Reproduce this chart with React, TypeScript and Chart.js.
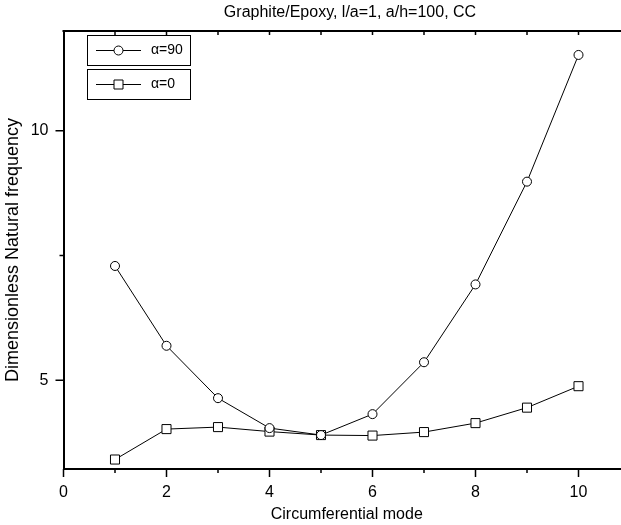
import { useEffect, useRef } from 'react';
import { Chart, registerables } from 'chart.js';

Chart.register(...registerables);

const modes = [1, 2, 3, 4, 5, 6, 7, 8, 9, 10];
const alpha90 = [7.29, 5.69, 4.64, 4.04, 3.9, 4.32, 5.36, 6.92, 8.98, 11.52];
const alpha0 = [3.41, 4.02, 4.06, 3.97, 3.9, 3.89, 3.96, 4.14, 4.45, 4.88];
const xTickLabels = [0, 2, 4, 6, 8, 10];
const xMinorTicks = [1, 3, 5, 7, 9];
const yTickLabels = [5, 10];
const yMinorTicks = [7.5];
const seriesLabels = ['α=90', 'α=0'];
const titleText = 'Graphite/Epoxy, l/a=1, a/h=100, CC';
const xTitle = 'Circumferential mode';
const yTitle = 'Dimensionless Natural frequency';

const FONT = '"Liberation Sans", Arial, sans-serif';

const decor = {
  id: 'decor',
  afterDraw(chart: any) {
    const { ctx, chartArea } = chart;
    const xs = chart.scales.x;
    const ys = chart.scales.y;
    ctx.save();
    // title
    ctx.fillStyle = '#000';
    ctx.font = `16px ${FONT}`;
    ctx.textAlign = 'center';
    ctx.textBaseline = 'middle';
    ctx.fillText(titleText, 350, 13);

    ctx.strokeStyle = '#000';
    // top border
    ctx.lineWidth = 2;
    ctx.beginPath();
    ctx.moveTo(chartArea.left - 1, chartArea.top);
    ctx.lineTo(chartArea.right, chartArea.top);
    ctx.stroke();

    ctx.lineWidth = 1.5;
    ctx.beginPath();
    xTickLabels.forEach((v) => {
      const px = xs.getPixelForValue(v);
      ctx.moveTo(px, chartArea.bottom);
      ctx.lineTo(px, chartArea.bottom + 8);
    });
    xMinorTicks.forEach((v) => {
      const px = xs.getPixelForValue(v);
      ctx.moveTo(px, chartArea.bottom);
      ctx.lineTo(px, chartArea.bottom + 4);
    });
    [...xTickLabels, ...xMinorTicks].forEach((v) => {
      if (v === 0) return;
      const px = xs.getPixelForValue(v);
      ctx.moveTo(px, chartArea.top);
      ctx.lineTo(px, chartArea.top + 4);
    });
    yTickLabels.forEach((v) => {
      const py = ys.getPixelForValue(v);
      ctx.moveTo(chartArea.left, py);
      ctx.lineTo(chartArea.left - 8, py);
    });
    yMinorTicks.forEach((v) => {
      const py = ys.getPixelForValue(v);
      ctx.moveTo(chartArea.left, py);
      ctx.lineTo(chartArea.left - 4, py);
    });
    ctx.stroke();

    // legend
    ctx.font = `14px ${FONT}`;
    ctx.textAlign = 'left';
    ctx.textBaseline = 'middle';
    chart.data.datasets.forEach((ds: any, i: number) => {
      const top = 35.5 + i * 34;
      ctx.lineWidth = 1;
      ctx.strokeStyle = '#000';
      ctx.strokeRect(87.5, top, 103, 30);
      const cy = top + 15;
      ctx.beginPath();
      ctx.moveTo(96, cy);
      ctx.lineTo(141, cy);
      ctx.stroke();
      ctx.fillStyle = '#fff';
      ctx.beginPath();
      if (ds.pointStyle === 'circle') {
        ctx.arc(118.5, cy, 4.5, 0, Math.PI * 2);
      } else {
        ctx.rect(114, cy - 4.5, 9, 9);
      }
      ctx.fill();
      ctx.stroke();
      ctx.fillStyle = '#000';
      ctx.fillText(ds.label, 151, cy);
    });
    ctx.restore();
  },
};

export default function App() {
  const ref = useRef<HTMLCanvasElement>(null);
  useEffect(() => {
    if (!ref.current) return;
    Chart.defaults.color = '#000';
    const tickFont = { family: FONT, size: 16 };
    const yTitleFont = { family: FONT, size: 18 };
    const chart = new Chart(ref.current, {
      type: 'line',
      data: {
        datasets: [
          {
            label: seriesLabels[0],
            data: modes.map((m, i) => ({ x: m, y: alpha90[i] })),
            borderColor: '#000',
            borderWidth: 1,
            pointStyle: 'circle',
            pointRadius: 4.5,
            pointBackgroundColor: '#fff',
            pointBorderColor: '#000',
            pointBorderWidth: 1,
            fill: false,
            tension: 0,
          },
          {
            label: seriesLabels[1],
            data: modes.map((m, i) => ({ x: m, y: alpha0[i] })),
            borderColor: '#000',
            borderWidth: 1,
            pointStyle: 'rect',
            pointRadius: 6.4,
            pointBackgroundColor: '#fff',
            pointBorderColor: '#000',
            pointBorderWidth: 1,
            fill: false,
            tension: 0,
          },
        ],
      },
      options: {
        animation: false,
        responsive: false,
        devicePixelRatio: 1,
        layout: { padding: { top: 31, right: 10, left: 0, bottom: 0 } },
        plugins: {
          legend: { display: false },
          title: { display: false },
          tooltip: { enabled: false },
        },
        scales: {
          x: {
            type: 'linear',
            min: 0,
            max: 11,
            afterBuildTicks: (s: any) => {
              s.ticks = xTickLabels.map((v) => ({ value: v }));
            },
            afterFit: (s: any) => {
              s.height = 56;
            },
            grid: { display: false },
            border: { display: true, color: '#000', width: 2 },
            ticks: { padding: 6, font: tickFont, color: '#000', maxRotation: 0, autoSkip: false },
            title: { display: true, text: xTitle, font: tickFont, color: '#000', padding: { top: 0, bottom: 1 } },
          },
          y: {
            type: 'linear',
            min: 3.22,
            max: 12.0,
            afterBuildTicks: (s: any) => {
              s.ticks = yTickLabels.map((v) => ({ value: v }));
            },
            afterFit: (s: any) => {
              s.width = 63.5;
            },
            grid: { display: false },
            border: { display: true, color: '#000', width: 2 },
            ticks: { padding: 7, font: tickFont, color: '#000', autoSkip: false },
            title: { display: true, text: yTitle, font: yTitleFont, color: '#000', padding: { top: 2, bottom: 0 } },
          },
        },
      },
      plugins: [decor],
    });
    return () => chart.destroy();
  }, []);
  return (
    <div style={{ position: 'fixed', left: 0, top: 0, width: 621, height: 525, overflow: 'hidden', background: '#fff' }}>
      <canvas ref={ref} width={640} height={525} style={{ display: 'block', width: 640, height: 525 }} />
    </div>
  );
}
